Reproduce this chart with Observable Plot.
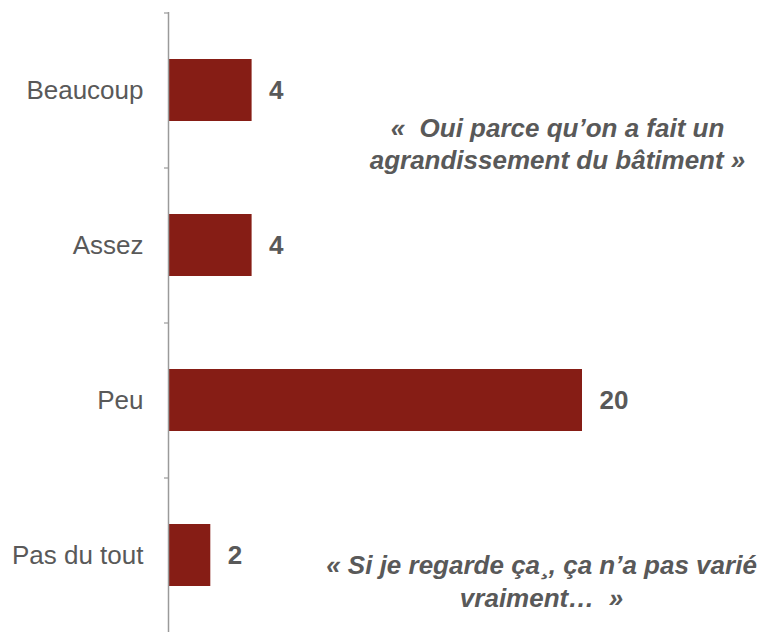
<!DOCTYPE html>
<html>
<head>
<meta charset="utf-8">
<script src="https://cdn.jsdelivr.net/npm/d3@7"></script>
<script src="https://cdn.jsdelivr.net/npm/@observablehq/plot@0.6"></script>
<style>
  html, body { margin: 0; padding: 0; background: #fff; }
  #chart svg { display: block; }
</style>
</head>
<body>
<div id="chart"></div>
<script>
const categories = ["Beaucoup", "Assez", "Peu", "Pas du tout"];
const values = [4, 4, 20, 2];
const quoteTexts = [
  "«  Oui parce qu’on a fait un\nagrandissement du bâtiment »",
  "« Si je regarde ça¸, ça n’a pas varié\nvraiment…  »"
];

const data = categories.map((c, i) => ({category: c, value: values[i]}));

const barColor = "#861D15";
const textColor = "#595959";
const font = "'Liberation Sans', Arial, Helvetica, sans-serif";

const W = 764, H = 632, mL = 169, mT = 12;

const chart = Plot.plot({
  width: W,
  height: H,
  marginTop: mT,
  marginBottom: 0,
  marginLeft: mL,
  marginRight: 182,
  style: {fontFamily: font, background: "#fff"},
  x: {domain: [0, 20], axis: null},
  y: {domain: categories, paddingInner: 0.6, paddingOuter: 0.3, axis: null},
  marks: [
    // tick marks at band boundaries
    Plot.axisY({tickSize: 5, tickFormat: () => "", label: null, dy: -77.5, stroke: "#9a9a9a", strokeWidth: 1.2}),
    // category labels
    Plot.axisY({tickSize: 0, tickPadding: 26, label: null, fontSize: 26, fill: textColor, textStroke: "none"}),
    Plot.barX(data, {x: "value", y: "category", fill: barColor}),
    Plot.ruleX([0], {stroke: "#9a9a9a", strokeWidth: 1.5, dx: -1}),
    Plot.text(data, {
      x: "value", y: "category", text: d => String(d.value),
      dx: 17, textAnchor: "start", fontWeight: "bold", fontSize: 26, fill: textColor
    }),
    Plot.text([quoteTexts[0]], {
      text: d => d, frameAnchor: "top-left", textAnchor: "middle", lineAnchor: "top",
      dx: 557 - mL, dy: 113.5 - mT, fontSize: 26, fontWeight: "bold", fontStyle: "italic",
      lineHeight: 1.23, fill: textColor
    }),
    Plot.text([quoteTexts[1]], {
      text: d => d, frameAnchor: "top-left", textAnchor: "middle", lineAnchor: "top",
      dx: 541 - mL, dy: 549.2 - mT, fontSize: 26, fontWeight: "bold", fontStyle: "italic",
      lineHeight: 1.3, fill: textColor
    })
  ]
});

document.getElementById("chart").appendChild(chart);
</script>
</body>
</html>
